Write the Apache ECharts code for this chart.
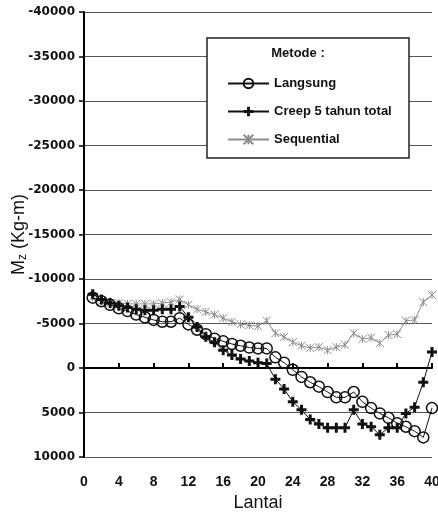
<!DOCTYPE html>
<html>
<head>
<meta charset="utf-8">
<script src="https://cdn.jsdelivr.net/npm/echarts@6/dist/echarts.min.js"></script>
<style>
  html, body { margin: 0; padding: 0; background: #fff; }
  #chart { width: 438px; height: 515px; }
</style>
</head>
<body>
<div id="chart"></div>
<script>
// Floor numbers (Lantai) 1..40
const floors = [1,2,3,4,5,6,7,8,9,10,11,12,13,14,15,16,17,18,19,20,
                21,22,23,24,25,26,27,28,29,30,31,32,33,34,35,36,37,38,39,40];

// Mz (Kg-m) per floor for each method
const langsung = [-7900,-7500,-7100,-6700,-6400,-6000,-5700,-5400,-5200,-5200,
                  -5600,-4900,-4300,-3800,-3300,-3000,-2700,-2500,-2300,-2200,
                  -2200,-1200,-600,200,1000,1600,2100,2700,3300,3300,
                  2700,3800,4500,5100,5600,6200,6600,7100,7800,4500];
const creep = [-8300,-7700,-7300,-7000,-6800,-6600,-6500,-6500,-6600,-6600,
               -6900,-5700,-4600,-3500,-2900,-2000,-1450,-1000,-800,-600,
               -500,1250,2350,3800,4700,5800,6300,6700,6700,6700,
               4700,6300,6600,7500,6700,6700,5100,4400,1600,-1800];
const sequential = [-7900,-7500,-7300,-7300,-7200,-7200,-7200,-7200,-7300,-7400,
                    -7700,-7100,-6600,-6300,-6000,-5600,-5200,-4900,-4800,-4700,
                    -5300,-3900,-3500,-2900,-2500,-2250,-2350,-2000,-2350,-2600,
                    -3900,-3250,-3400,-2800,-3700,-3800,-5300,-5400,-7400,-8200];

const seriesNames = ['Langsung', 'Creep 5 tahun total', 'Sequential'];
const legendTitle = 'Metode :';

// axis ranges
const xMin = 0, xMax = 40, xStep = 4;
const yMin = -40000, yMax = 10000, yStep = 5000;

const pairs = vals => floors.map((f, i) => [f, vals[i]]);

// marker shapes: a bold plus, and an asterisk (x with a vertical stroke)
const plusPath = 'path://M3.5,0H6.5V3.5H10V6.5H6.5V10H3.5V6.5H0V3.5H3.5Z';
const starPath = 'path://M0,0L10,10M10,0L0,10M5,0L5,10';

const chart = echarts.init(document.getElementById('chart'), null, { renderer: 'canvas' });

const option = {
  animation: false,
  backgroundColor: '#fff',
  grid: { left: 84, right: 6, top: 12, bottom: 58, containLabel: false, outerBoundsMode: 'none' },
  xAxis: [
    {
      type: 'value', min: xMin, max: xMax, interval: xStep,
      position: 'bottom',
      name: 'Lantai', nameLocation: 'middle', nameGap: 37, nameMoveOverlap: false,
      nameTextStyle: { fontFamily: 'Liberation Sans, Arial', fontSize: 18, color: '#111' },
      axisLine: { show: false, onZero: false },
      axisTick: { show: false },
      splitLine: { show: false },
      axisLabel: { margin: 18, fontFamily: 'Liberation Sans, Arial', fontSize: 14, fontWeight: 'bold', color: '#111',
                   formatter: v => String(v) }
    },
    {
      type: 'value', min: xMin, max: xMax, interval: xStep,
      position: 'bottom',
      axisLine: { show: true, onZero: true, lineStyle: { color: '#000', width: 2 } },
      axisTick: { show: true, inside: true, length: 5, lineStyle: { color: '#000', width: 2 } },
      axisLabel: { show: false },
      splitLine: { show: false }
    }
  ],
  yAxis: {
    type: 'value', inverse: true, min: yMin, max: yMax, interval: yStep,
    name: '{m|M}{s|z}{m| (Kg-m)}', nameLocation: 'middle', nameGap: 55, nameMoveOverlap: false,
    nameTextStyle: {
      rich: {
        m: { fontFamily: 'Liberation Sans, Arial', fontSize: 18, color: '#111' },
        s: { fontFamily: 'Liberation Sans, Arial', fontSize: 12, color: '#111', verticalAlign: 'bottom', padding: [7, 0, 0, 0] }
      }
    },
    axisLine: { show: true, onZero: false, lineStyle: { color: '#000', width: 2 } },
    axisTick: { show: true, inside: false, length: 5, lineStyle: { color: '#000', width: 1.5 } },
    axisLabel: { margin: 9, fontFamily: 'DejaVu Sans', fontSize: 12, fontWeight: 'bold', color: '#111',
                 formatter: v => String(v) },
    splitLine: { show: true, lineStyle: { color: '#555', width: 1 } }
  },
  legend: {
    orient: 'vertical',
    left: 222, top: 72,
    itemWidth: 41, itemHeight: 12, itemGap: 15,
    z: 20,
    textStyle: { fontFamily: 'Liberation Sans, Arial', fontSize: 13, fontWeight: 'bold', color: '#111' },
    data: seriesNames
  },
  graphic: [
    {
      type: 'rect', z: 10,
      shape: { x: 207, y: 38, width: 202, height: 120 },
      style: { fill: '#fff', stroke: '#222', lineWidth: 1.5 }
    },
    {
      type: 'text', z: 11,
      x: 298, y: 53,
      style: { text: legendTitle, fontFamily: 'Liberation Sans, Arial', fontSize: 13, fontWeight: 'bold', fill: '#111', align: 'center', verticalAlign: 'middle' }
    }
  ],
  series: [
    {
      name: seriesNames[0], type: 'line', xAxisIndex: 0,
      data: pairs(langsung),
      symbol: 'circle', symbolSize: 11,
      lineStyle: { color: '#111', width: 1 },
      itemStyle: { color: 'rgba(255,255,255,0)', borderColor: '#111', borderWidth: 1.5 },
      z: 4
    },
    {
      name: seriesNames[1], type: 'line', xAxisIndex: 0,
      data: pairs(creep),
      symbol: plusPath, symbolSize: 10,
      lineStyle: { color: '#111', width: 1 },
      itemStyle: { color: '#111' },
      z: 3
    },
    {
      name: seriesNames[2], type: 'line', xAxisIndex: 0,
      data: pairs(sequential),
      symbol: starPath, symbolSize: 8,
      lineStyle: { color: '#8c8c8c', width: 1 },
      itemStyle: { color: 'rgba(255,255,255,0)', borderColor: '#8c8c8c', borderWidth: 1 },
      z: 2
    }
  ]
};

chart.setOption(option);
</script>
</body>
</html>
